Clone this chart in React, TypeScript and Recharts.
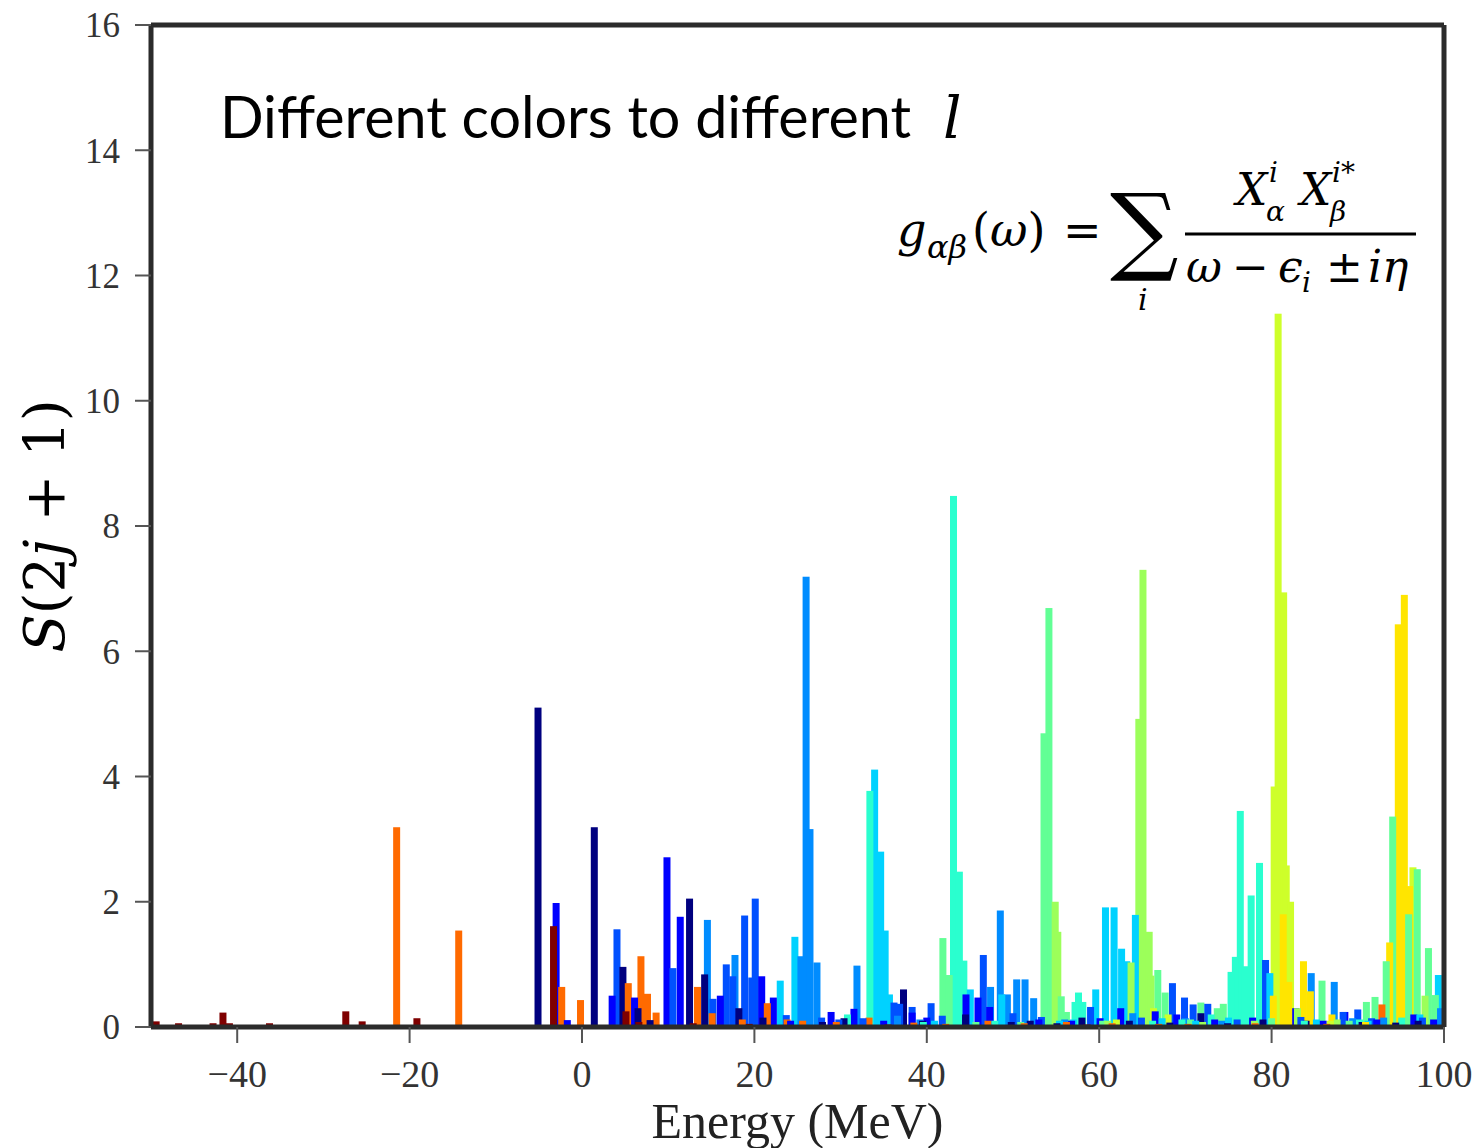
import React from "react";
import { ComposedChart, Bar, XAxis, YAxis } from "recharts";

// strength per partial wave: [energy (MeV), S(2j+1)]
const l0: [number, number][] = [
  [-49.4, 0.09], [-46.8, 0.06], [-42.8, 0.06], [-41.65, 0.23], [-40.9, 0.06],
  [-36.25, 0.06], [-33.1, 0.03], [-27.4, 0.25], [-25.5, 0.09], [-19.15, 0.14],
  [-3.3, 1.61], [5.1, 0.25], [6.6, 0.08], [12.9, 0.06], [19.4, 0.05],
  [35.5, 0.04], [58.6, 0.04], [88.9, 0.03],
];
const l1: [number, number][] = [
  [-37.6, 0.03], [-21.5, 3.19], [-14.3, 1.54], [-2.35, 0.64], [-0.17, 0.43],
  [5.37, 0.7], [6.84, 1.13], [7.6, 0.53], [8.6, 0.23], [13.4, 0.64],
  [15.1, 0.22], [18.6, 0.12], [21.5, 0.38], [23.8, 0.12], [25.6, 0.1],
  [29.5, 0.08], [33.3, 0.15], [38.5, 0.07], [42.2, 0.05], [47.1, 0.1],
  [51.3, 0.06], [56.2, 0.08], [61.5, 0.06], [66.9, 0.05], [70.3, 0.05],
  [78.1, 0.06], [86.4, 0.05], [92.8, 0.36],
];
const l2: [number, number][] = [
  [-26.2, 0.03], [-5.1, 5.1], [1.43, 3.19], [4.75, 0.96], [6.5, 0.3],
  [7.9, 0.11], [12.48, 2.05], [14.23, 0.84], [18.2, 0.3], [21.0, 0.15],
  [27.9, 0.08], [30.4, 0.14], [37.3, 0.6], [39.5, 0.1], [44.5, 0.2],
  [49.8, 0.08], [52.0, 0.1], [55.1, 0.06], [58.0, 0.15], [63.5, 0.1],
  [68.2, 0.07], [71.8, 0.22], [74.9, 0.06], [79.0, 0.12], [84.0, 0.1],
  [90.5, 0.08], [94.4, 0.07], [97.0, 0.1],
];
const l3: [number, number][] = [
  [-3.0, 1.98], [-1.7, 0.11], [3.5, 0.5], [6.1, 0.47], [9.86, 2.71],
  [11.4, 1.76], [16.05, 0.5], [20.85, 0.81], [22.2, 0.47], [24.2, 0.1],
  [28.9, 0.24], [31.55, 0.29], [35.0, 0.1], [38.3, 0.23], [40.0, 0.15],
  [44.55, 0.52], [45.94, 0.47], [47.3, 0.32], [53.0, 0.12], [56.8, 0.1],
  [60.1, 0.14], [62.5, 0.3], [66.5, 0.25], [69.0, 0.2], [73.4, 0.12],
  [77.8, 0.15], [82.8, 0.3], [86.0, 0.1], [88.5, 0.24], [92.2, 0.12],
  [96.5, 0.2], [98.8, 0.12],
];
const l4: [number, number][] = [
  [4.06, 1.56], [10.55, 0.94], [15.2, 0.45], [16.74, 1.0], [17.5, 0.81],
  [18.87, 1.78], [19.7, 0.79], [20.1, 2.05], [23.7, 0.19], [27.8, 0.15],
  [29.8, 0.12], [32.6, 0.14], [36.2, 0.39], [36.85, 0.37], [38.3, 0.32],
  [40.5, 0.38], [41.8, 0.18], [46.56, 1.15], [50.0, 0.22], [53.3, 0.16],
  [59.0, 0.32], [64.9, 0.15], [68.5, 0.7], [69.9, 0.47], [70.9, 0.36],
  [72.6, 0.37], [76.0, 0.12], [79.3, 1.07], [83.4, 0.16], [88.3, 0.24],
  [90.0, 0.28], [91.6, 0.14], [97.5, 0.15],
];
const l5: [number, number][] = [
  [14.55, 1.71], [17.75, 1.15], [25.4, 1.13], [26.0, 7.19], [26.45, 3.16],
  [27.26, 1.03], [31.9, 0.98], [36.6, 0.18], [39.2, 0.12], [47.4, 0.64],
  [48.53, 1.86], [49.35, 0.52], [50.43, 0.76], [51.4, 0.76], [52.4, 0.46],
  [56.0, 0.12], [63.9, 0.22], [70.0, 0.14], [74.2, 0.1], [84.6, 0.86],
  [87.27, 0.72], [89.4, 0.14], [93.0, 0.15], [99.6, 0.3],
];
const l6: [number, number][] = [
  [23.0, 0.74], [24.7, 1.44], [33.95, 4.11], [34.65, 2.8], [35.17, 1.54],
  [35.67, 0.52], [40.9, 0.1], [45.05, 0.6], [48.7, 0.52], [55.4, 0.1],
  [57.0, 0.12], [59.6, 0.6], [60.73, 1.91], [61.73, 1.91], [62.6, 1.25],
  [63.2, 1.05], [64.2, 1.79], [67.3, 0.14], [71.2, 0.1], [75.0, 0.15],
  [79.8, 0.86], [85.2, 0.12], [91.2, 0.1], [97.2, 0.2], [99.35, 0.83],
];
const l7: [number, number][] = [
  [9.0, 0.03], [30.8, 0.2], [33.4, 3.77], [39.6, 0.08], [43.1, 8.48],
  [43.78, 2.48], [44.3, 1.06], [47.9, 0.1], [57.2, 0.4], [57.6, 0.55],
  [58.1, 0.4], [66.2, 0.1], [69.6, 0.12], [73.0, 0.2], [75.3, 0.88],
  [75.8, 1.12], [76.37, 3.45], [76.9, 0.97], [77.63, 2.1], [78.6, 2.62],
  [83.8, 0.1], [90.2, 0.12], [95.1, 0.15],
];
const l8: [number, number][] = [
  [41.87, 1.42], [42.6, 0.83], [45.7, 0.08], [50.9, 0.08], [53.6, 4.69],
  [54.17, 6.69], [55.6, 0.49], [56.2, 0.24], [60.4, 0.1], [66.8, 0.91],
  [67.65, 0.55], [70.6, 0.12], [71.8, 0.39], [73.7, 0.3], [74.4, 0.37],
  [80.0, 0.14], [85.85, 0.74], [89.0, 0.1], [91.0, 0.4], [92.0, 0.48],
  [93.3, 1.05], [94.05, 3.36], [95.9, 1.8], [96.9, 2.52], [98.2, 1.26],
  [99.0, 0.51],
];
const l9: [number, number][] = [
  [54.9, 2.0], [55.2, 1.52], [61.0, 0.1], [63.7, 1.03], [64.6, 4.92],
  [65.08, 7.3], [65.8, 1.52], [66.0, 0.82], [72.0, 0.08], [78.0, 0.1],
  [83.0, 0.3], [87.6, 0.12], [97.8, 0.5],
];
const l10: [number, number][] = [
  [62.0, 0.12], [66.3, 0.3], [68.0, 0.2], [80.3, 3.84], [80.76, 11.39],
  [81.4, 6.94], [81.7, 2.58], [82.2, 2.0], [86.8, 0.1], [96.4, 2.55],
];
const l11: [number, number][] = [
  [80.2, 0.5], [81.35, 1.8], [82.0, 0.72], [83.7, 1.05], [84.5, 0.57],
  [87.0, 0.2], [90.9, 0.08], [93.7, 1.35], [94.7, 6.43], [95.4, 6.9],
  [96.0, 2.25],
];

const waves = [l0, l1, l2, l3, l4, l5, l6, l7, l8, l9, l10, l11];
const waveColors = [
  "#7f0000", "#ff6a00", "#00007f", "#0000ff", "#0050ff", "#008cff",
  "#00d2ff", "#2affcf", "#62ff95", "#9cff5a", "#ceff2a", "#ffe500",
];

const xTicks = [-40, -20, 0, 20, 40, 60, 80, 100];
const yTicks = [0, 2, 4, 6, 8, 10, 12, 14, 16];

// taller bars first so the small ones stay visible on top
const bars = waves
  .flatMap((w, l) => w.map(([e, s]) => ({ e, s, c: waveColors[l] })))
  .sort((a, b) => b.s - a.s);

const BAR_W = 7;
const serif = "Liberation Serif, Times New Roman, serif";
const math = "DejaVu Serif, serif";
const frame = "#2b2b2b";
const tickCol = "#555";

const BarShape = (p: any) => {
  if (!p.height) return null;
  const cx = p.x + p.width / 2;
  return (
    <rect
      x={cx - BAR_W / 2}
      y={p.y}
      width={BAR_W}
      height={p.height}
      fill={p.payload?.c ?? p.fill}
    />
  );
};

const YLabel = (props: any) => {
  const vb = props.viewBox || { x: 0, y: 25, width: 151, height: 1002 };
  const x = vb.x + 64;
  const y = vb.y + vb.height / 2;
  return (
    <text
      x={x}
      y={y}
      transform={`rotate(-90 ${x} ${y})`}
      textAnchor="middle"
      fontFamily={math}
      fontSize={56}
      fill="#000"
    >
      <tspan fontStyle="italic">S</tspan>(2<tspan fontStyle="italic">j</tspan> + 1)
    </text>
  );
};

const fmtX = (v: number) => String(v).replace("-", "\u2212");

export default function App() {
  return (
    <div style={{ position: "absolute", left: 0, top: 0, width: 1473, height: 1148, background: "#fff" }}>
      <ComposedChart
        width={1473}
        height={1148}
        data={bars}
        margin={{ top: 0, right: 0, bottom: 0, left: 0 }}
      >
        <XAxis
          xAxisId="b"
          dataKey="e"
          type="number"
          domain={[-50, 100]}
          ticks={xTicks}
          allowDataOverflow
          height={121}
          tickSize={16}
          tickMargin={17}
          tickFormatter={fmtX}
          axisLine={{ stroke: frame, strokeWidth: 5 }}
          tickLine={{ stroke: tickCol, strokeWidth: 2 }}
          tick={{ fontFamily: serif, fontSize: 38, fill: "#333" }}
          label={{
            value: "Energy (MeV)",
            position: "insideBottom",
            offset: 10,
            fontFamily: serif,
            fontSize: 50,
            fill: "#222",
          }}
        />
        <XAxis
          xAxisId="t"
          orientation="top"
          type="number"
          domain={[-50, 100]}
          ticks={xTicks}
          allowDataOverflow
          height={25}
          tickSize={17}
          tick={false}
          axisLine={{ stroke: frame, strokeWidth: 5 }}
          tickLine={{ stroke: tickCol, strokeWidth: 2 }}
        />
        <YAxis
          yAxisId="l"
          type="number"
          domain={[0, 16]}
          ticks={yTicks}
          allowDataOverflow
          width={151}
          tickSize={16}
          tickMargin={15}
          axisLine={{ stroke: frame, strokeWidth: 5 }}
          tickLine={{ stroke: tickCol, strokeWidth: 2 }}
          tick={{ fontFamily: serif, fontSize: 35, fill: "#333" }}
          label={{ content: YLabel }}
        />
        <YAxis
          yAxisId="r"
          orientation="right"
          type="number"
          domain={[0, 16]}
          ticks={yTicks}
          allowDataOverflow
          width={29}
          tickSize={17}
          tick={false}
          axisLine={{ stroke: frame, strokeWidth: 5 }}
          tickLine={{ stroke: tickCol, strokeWidth: 2 }}
        />
        <Bar
          xAxisId="b"
          yAxisId="l"
          dataKey="s"
          barSize={BAR_W}
          shape={BarShape}
          isAnimationActive={false}
        />
      </ComposedChart>

      <svg
        width={1473}
        height={1148}
        style={{ position: "absolute", left: 0, top: 0, pointerEvents: "none" }}
      >
        <text x={220} y={138} fontFamily="Lato, Open Sans, sans-serif" fontSize={58} fill="#000"
          textLength={691} lengthAdjust="spacingAndGlyphs">
          Different colors to different
        </text>
        <text x={943} y={138} fontFamily={math} fontStyle="italic" fontSize={58} fill="#000">l</text>

        {/* Green's function */}
        <g fontFamily={math} fill="#000">
          <text x={897} y={246} fontSize={46} fontStyle="italic">g</text>
          <text x={927} y={258} fontSize={32} fontStyle="italic">αβ</text>
          <text x={972} y={246} fontSize={46}>(<tspan fontStyle="italic">ω</tspan>)</text>
          <text x={1063} y={246} fontSize={46}>=</text>
          <text x={1110} y={262} fontSize={96}>∑</text>
          <text x={1138} y={310} fontSize={30} fontStyle="italic">i</text>

          <text x={1236} y={205} fontSize={44} fontStyle="italic">X</text>
          <text x={1269} y={182} fontSize={28} fontStyle="italic">i</text>
          <text x={1266} y={221} fontSize={28} fontStyle="italic">α</text>
          <text x={1300} y={205} fontSize={44} fontStyle="italic">X</text>
          <text x={1332} y={182} fontSize={28} fontStyle="italic">i*</text>
          <text x={1330} y={221} fontSize={28} fontStyle="italic">β</text>

          <line x1={1185} x2={1416} y1={234} y2={234} stroke="#000" strokeWidth={3} />

          <text x={1186} y={282} fontSize={44} fontStyle="italic">ω</text>
          <text x={1232} y={282} fontSize={44}>−</text>
          <text x={1278} y={282} fontSize={44} fontStyle="italic">ϵ</text>
          <text x={1302} y={292} fontSize={28} fontStyle="italic">i</text>
          <text x={1326} y={282} fontSize={44}>±</text>
          <text x={1368} y={282} fontSize={44} fontStyle="italic">iη</text>
        </g>
      </svg>
    </div>
  );
}
